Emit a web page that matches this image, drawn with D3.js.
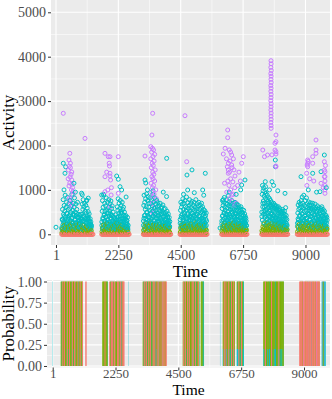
<!DOCTYPE html>
<html><head><meta charset="utf-8">
<script src="https://cdn.jsdelivr.net/npm/d3@7"></script>
<style>
body{margin:0;background:#fff}
svg{display:block}
text{font-family:"Liberation Serif","Times New Roman",serif}
</style>
</head><body>
<svg id="chart" width="332" height="399"></svg>
<script>
// ---------------- data ----------------
const stateKeys = ["s1","s2","s3","s4"];
const stateColors = ["#F8766D","#7CAE00","#00BFC4","#C77CFF"];
const xTicks = [1, 2250, 4500, 6750, 9000];
const xMinor = [1125.5, 3375, 5625, 7875];
const yTicksTop = [0, 1000, 2000, 3000, 4000, 5000];
const yMinorTop = [500, 1500, 2500, 3500, 4500];
const yTicksBottom = [0, 0.25, 0.5, 0.75, 1];
const yMinorBottom = [0.125, 0.375, 0.625, 0.875];

// active periods (time index) in the activity panel
const clusterStart = [206, 1650, 3150, 4474, 5977, 7420, 8705];
const clusterEnd   = [1288, 2610, 4113, 5437, 6879, 8344, 9787];
const redEnd       = [1335, 2640, 4140, 5450, 6890, 8360, 9790];
const redCount     = [45, 40, 45, 40, 40, 40, 45];

const greenVals = [
 [40,120,80,200,30,150,90,230,60,170,110,20,190,70,140,250,50,100,180,30,130,210,80,160,40,120,240,60,90,170,20,140,200,70,110,50,180,90,150,30,100,60,130,40,80],
 [60,140,30,210,90,170,50,120,240,80,190,20,150,100,220,40,130,70,180,110,30,200,60,160,90,250,40,140,80,190,120,50,170,30,210,100,60,150,80,130,40,180,90,110,50],
 [90,30,170,120,240,50,150,200,70,110,180,20,140,260,60,100,190,40,130,220,80,160,30,120,210,70,140,50,180,100,230,60,150,90,40,200,110,170,30,130,80,190,60,120,40,160,100,70,140,50],
 [50,130,200,80,160,30,110,240,70,180,100,20,150,210,60,120,90,190,40,140,230,70,170,110,30,200,80,150,50,120,260,90,170,40,130,210,60,100,180,30,140,80,160,50,110,200,70,120,40,90],
 [70,150,40,210,120,180,60,250,90,140,30,200,110,170,50,230,80,130,190,40,160,100,220,60,140,80,260,120,30,180,90,150,210,50,110,170,70,240,100,140,40,190,60,130,200,80,160,30,120,90,180,50,140,70,100],
 [80,40,170,120,230,60,150,100,200,30,140,260,70,180,110,50,210,90,160,40,130,240,70,190,100,150,30,220,80,170,120,60,200,90,140,40,250,110,160,70,190,50,130,210,80,150,100,40,180,60,120,90,140,70,110],
 [60,160,100,220,40,140,190,80,250,120,30,170,90,210,60,150,110,240,50,130,180,70,200,100,40,160,230,80,140,30,190,110,60,220,90,170,50,130,260,70,150,100,200,40,120,180,80,140,60,210,100,50,150,90,120]
];

const cyanVals = [
 [120,340,560,210,780,450,300,650,180,520,880,390,260,610,720,150,470,830,350,560,240,690,420,130,580,760,310,490,640,200,900,370,540,280,700,460,160,610,820,330,500,250,680,420,190,560,380,720,290,450,
  230,380,150,320,420,260,180,350,300,140,
  450,680,300,560,780,220,620,400,700,350,520,160,650,480,750,280,590,420,360,510,
  380,240,460,300,180,350,220,280,150,200],
 [200,520,760,340,610,150,880,430,290,700,520,180,640,390,820,260,550,470,720,330,150,600,780,410,280,530,690,220,460,750,350,580,200,640,420,310,500,260,380,180,
  240,120,330,200,150,280,100,220,
  380,620,260,540,800,330,470,700,190,580,420,760,300,520,650,240,480,720,350,560,280,610,430,200,500,370,290,
  340,180,420,260,150,310,230,380,140,200],
 [300,650,880,420,720,180,560,800,350,620,910,270,500,760,430,850,220,610,700,380,540,820,160,470,690,330,780,560,250,640,900,410,520,730,300,590,820,450,200,680,540,370,760,290,620,480,710,350,560,430,
  640,280,520,700,360,180,590,450,620,300,510,240,660,390,470,200,560,330,420,580,260,480,350,150,430,520,280,390,210,460,320,250,380,170,290],
 [250,540,720,380,610,190,680,450,800,320,560,700,230,490,760,400,620,280,540,840,360,600,170,710,470,580,300,650,780,420,520,260,690,380,600,740,330,480,560,210,650,430,720,290,540,610,380,780,460,240,570,690,350,500,640,280,720,420,560,330,660,480,250,590,700,360,510,620,300,450,560,220,480,390,530,260,420,340,480,300],
 [300,580,760,420,650,200,720,490,830,360,610,540,250,700,460,780,330,590,680,400,520,870,280,640,450,730,190,560,690,380,620,500,760,310,580,440,700,260,530,650,390,570,720,300,480,620,350,540,680,420,260,590,460,650,330,510,600,240,470,560,380,620,290,500,440,560,320,480,220,420,540,360,280,460,330,400,250,360,300,200],
 [400,900,1100,620,980,750,1050,520,860,700,960,430,810,640,920,560,780,350,880,690,740,480,830,600,710,390,800,550,660,760,300,620,720,470,580,680,360,640,530,700,420,590,250,660,500,610,380,560,640,300,520,600,440,560,340,620,480,270,540,410,580,330,500,460,230,520,380,470,300,560,420,350,480,260,400,520,330,450,280,600,360,420,240,330,200],
 [250,480,660,320,560,720,400,600,190,680,520,760,350,620,840,460,700,300,580,880,520,650,410,760,280,620,540,820,370,690,480,600,220,730,560,450,660,320,590,710,400,540,650,260,580,480,700,350,520,620,300,560,440,680,380,500,600,240,520,460,640,330,560,420,280,600,480,360,540,450,300,580,400,620,260,500,420,560,330,480,380,520,280,440,360,300,420,250,380,320]
];

// a second, denser layer of lower cyan readings per active period
const cyanLow = [
 [150,320,90,260,410,180,350,120,470,230,300,80,390,200,440,160,280,360,110,250,420,190,330,140,480,270,100,380,220,310,170,450,240,130,340,210,400,90,290,160,370,250,120,330,200,280,150,230,110,180],
 [280,130,370,220,90,450,310,170,400,240,140,330,260,480,190,120,360,230,420,150,300,210,100,380,270,160,440,200,320,130,250,390,180,110,350,230,470,150,290,210,120,340,260,180,400,140,220,310,170,100],
 [200,360,110,430,260,170,490,320,140,390,230,300,100,450,280,180,370,220,120,410,310,160,460,250,130,350,200,420,290,150,380,240,110,330,470,190,270,140,400,220,320,160,360,260,120,300,200,240,150,180],
 [330,160,420,240,110,380,280,190,460,220,130,350,300,170,440,260,100,390,210,320,150,480,250,180,370,120,290,410,230,140,340,200,450,270,160,310,110,400,240,190,360,130,280,220,330,150,250,180,120,200],
 [240,410,130,330,200,470,280,150,380,230,110,440,300,180,360,250,130,420,210,320,160,480,270,120,390,220,340,170,450,260,140,310,200,400,100,290,230,370,160,330,250,180,300,140,260,210,170,230,130,190],
 [500,320,700,450,260,620,380,540,210,470,330,580,240,420,300,510,180,390,450,270,350,160,420,300,230,380,140,330,260,400,190,310,240,120,350,210,280,170,300,130,260,200,150,240,110,220,170,130,190,100],
 [180,350,260,120,430,300,200,470,240,380,150,320,410,260,110,360,290,190,450,230,340,140,400,270,210,380,160,310,440,250,120,350,220,290,170,390,240,130,330,200,280,150,300,230,110,260,180,210,140,170]
];

// [time, activity] pairs for the sparse high cyan points
const cyanHigh = [
 [1,160],[264,1600],[350,1520],[325,1375],[650,1150],[925,925],[950,890],[1165,815],[1110,770],[700,950],[290,1000],
 [2190,1313],[2248,1240],[2310,1072],[2370,998],[1650,885],[2530,840],[1720,900],[2560,150],
 [3993,1711],[3211,1223],[3240,1155],[3990,850],[3870,950],[3300,1000],[3500,980],
 [4725,1335],[4906,1450],[5386,1374],[4750,998],[4990,937],[5293,998],[5330,880],[4600,900],
 [6818,1223],[6700,1110],[6663,1000],[5917,142],[6035,780],[6500,900],[6250,950],
 [7911,1673],[7915,1522],[7550,1185],[7792,1185],[7560,1072],[8261,923],[7700,1000],[7850,1100],[8000,980],
 [8838,1297],[9260,1374],[9560,1410],[9680,1786],[9523,960],[9100,1000],[9400,950],[9750,1050]
];

// [time, activity] pairs for the high-activity state
const purplePts = [
 [264,2725],[1047,2160],[500,1823],[470,1673],[520,1600],[480,1535],[450,1448],[570,1403],[510,1290],[570,1223],[500,1155],[470,1088],[560,998],[610,885],[500,773],[570,637],[530,700],[545,1350],[520,1500],[600,1050],[440,1250],[575,1130],[620,960],[490,820],
 [1768,1823],[1887,1748],[1948,1748],[2248,1748],[1920,1600],[1930,1538],[1948,1374],[1948,1313],[1768,1297],[1970,1223],[1768,960],[1990,885],[2248,923],[1948,622],[1870,998],[2000,1050],[1830,1400],
 [3488,2725],[3460,2236],[3211,1763],[3420,1973],[3480,1937],[3520,1900],[3450,1850],[3560,1800],[3500,1750],[3420,1700],[3540,1650],[3470,1600],[3510,1550],[3440,1500],[3580,1450],[3490,1400],[3530,1350],[3460,1300],[3500,1250],[3560,1200],[3430,1150],[3520,1100],[3480,1050],[3600,1000],[3450,950],[3540,900],[3500,850],[3620,800],[3470,700],[3550,600],[3500,480],
 [4653,2671],[4715,1635],
 [6194,2349],[6194,2176],[6035,1808],[6338,1786],[6757,1748],[6699,1600],[6338,1560],[6216,1448],[6216,1374],[6457,1313],[6338,885],[6100,1937],[6250,1900],[6300,1850],[6150,1700],[6280,1650],[6400,1700],[6220,1600],[6350,1500],[6180,1520],[6420,1450],[6260,1400],[6300,1250],[6200,1200],[6380,1180],[6240,1100],[6450,1050],[6300,1000],[6160,950],[6400,900],[6250,800],[6350,750],[6500,700],[6600,1400],[6650,1200],[6550,1100],[6450,650],[6080,1150],
 [7756,3910],[7760,3840],[7750,3760],[7765,3690],[7750,3620],[7760,3560],[7755,3490],[7762,3420],[7750,3350],[7758,3290],[7752,3220],[7760,3150],[7756,3080],[7750,3010],[7760,2940],[7756,2870],[7752,2800],[7760,2730],[7756,2660],[7760,2590],[7752,2520],[7758,2450],[7760,2387],
 [7935,2236],[7935,2086],[7935,1860],[7935,1808],[7935,1522],[7460,1898],[7520,1748],[7790,1790],[7900,2050],[7900,1898],[7630,1786],[7930,1538],
 [9379,2124],[9079,1673],[9079,1600],[9079,1522],[9100,1640],[9060,1560],[9260,1748],[9260,1600],[9379,1898],[9379,1823],[9680,1635],[9680,1448],[9680,1297],[9560,1148],[9043,1374],[9703,1410],[9703,1300],[9703,1200],[9703,1100],[9703,1000],[9703,923],[9720,1550],[9150,1250],[9300,1200],[9050,1100],[9640,1050]
];

// state-probability panel: blocks of bins, one character per bin (r,g,c,p; upper case = with cyan share)
const probStart  = [1, 287, 1170, 1777, 2028, 2708, 3223, 4656, 5300, 5991, 6088, 6589, 7541, 8830, 9632];
const probBinW   = [10, 20, 20, 20, 20, 10, 20, 20, 20, 10, 20, 20, 20, 20, 20];
const probStates = [
 "c",
 "gcgrgGrgggcrgGgrggcgrgGgrgpgggrcggrgGgrg",
 "rr",
 "ggGgrgggcg",
 "rgcrgrcgrrgcgprgrgcrgcrgrrr",
 "c",
 "gcrgpgrgcgrgGrgcgpgrgrcgGrgcrgpgrgcrgrgrgrr",
 "grgcrgGgrcgrggcgrGrgcgrgcggrgc",
 "ggcgcc",
 "c",
 "GgrGgrGpgGrGgcGrgGgrGg",
 "GcGrGgcGrgGcc",
 "GgGrGgpGgGcGgGrGgGgGpcGgGgGrGgGcGgGgc",
 "rrgrrgrprrgrrgrcrrgrrpgrrgrrgrprrgrrg",
 "cpgcpcc"
];
const cyanShare = 0.2;

// ---------------- layout ----------------
const svg = d3.select("#chart");
const pTop = {l:51, r:330, t:0, b:245};
const pBot = {l:47, r:330, t:280, b:367.5};

const xT = d3.scaleLinear().domain([-179, 9884]).range([pTop.l, pTop.r]);
const yT = d3.scaleLinear().domain([-241, 5277]).range([pTop.b, pTop.t]);
const xB = d3.scaleLinear().domain([-203, 9931]).range([pBot.l, pBot.r]);
const yB = d3.scaleLinear().domain([-0.018, 1.018]).range([pBot.b, pBot.t]);

function panel(p, xs, ys, yMaj, yMin) {
  const g = svg.append("g");
  g.append("rect").attr("x", p.l).attr("y", p.t).attr("width", p.r - p.l).attr("height", p.b - p.t).attr("fill", "#EBEBEB");
  g.append("g").selectAll("line").data(yMin).join("line")
    .attr("x1", p.l).attr("x2", p.r).attr("y1", d => ys(d)).attr("y2", d => ys(d))
    .attr("stroke", "#fff").attr("stroke-width", 0.55);
  g.append("g").selectAll("line").data(xMinor).join("line")
    .attr("y1", p.t).attr("y2", p.b).attr("x1", d => xs(d)).attr("x2", d => xs(d))
    .attr("stroke", "#fff").attr("stroke-width", 0.55);
  g.append("g").selectAll("line").data(yMaj).join("line")
    .attr("x1", p.l).attr("x2", p.r).attr("y1", d => ys(d)).attr("y2", d => ys(d))
    .attr("stroke", "#fff").attr("stroke-width", 1.1);
  g.append("g").selectAll("line").data(xTicks).join("line")
    .attr("y1", p.t).attr("y2", p.b).attr("x1", d => xs(d)).attr("x2", d => xs(d))
    .attr("stroke", "#fff").attr("stroke-width", 1.1);
}
panel(pTop, xT, yT, yTicksTop, yMinorTop);
panel(pBot, xB, yB, yTicksBottom, yMinorBottom);

// ---------------- activity points ----------------
const pts = [];
clusterStart.forEach((s, k) => {
  const n = redCount[k], span = clusterEnd[k] - s;
  for (let i = 0; i < n; i++) pts.push({t: s + (redEnd[k] - s) * i / (n - 1), v: 0, s: 0});
  greenVals[k].forEach((v, i, a) => pts.push({t: s + span * (i + 0.5) / a.length, v, s: 1}));
  cyanVals[k].forEach((v, i, a) => pts.push({t: s + span * (i + 0.5) / a.length, v, s: 2}));
  cyanLow[k].forEach((v, i, a) => pts.push({t: s + span * (i + 0.25) / a.length, v, s: 2}));
});
cyanHigh.forEach(([t, v]) => pts.push({t, v, s: 2}));
purplePts.forEach(([t, v]) => pts.push({t, v, s: 3}));
pts.sort((a, b) => a.t - b.t);

svg.append("g").selectAll("circle").data(pts).join("circle")
  .attr("cx", d => xT(d.t)).attr("cy", d => yT(d.v)).attr("r", 2)
  .attr("fill", "none").attr("stroke", d => stateColors[d.s]).attr("stroke-width", 1);

// ---------------- probability bars ----------------
const rows = [];
probStart.forEach((s, b) => {
  const str = probStates[b], w = probBinW[b];
  for (let i = 0; i < str.length; i++) {
    const ch = str[i], idx = "rgcp".indexOf(ch.toLowerCase());
    const row = {t: s + i * w, w, last: i === str.length - 1, s1: 0, s2: 0, s3: 0, s4: 0};
    if (ch !== ch.toLowerCase() && idx !== 2) { row[stateKeys[idx]] = 1 - cyanShare; row.s3 = cyanShare; }
    else row[stateKeys[idx]] = 1;
    rows.push(row);
  }
});
const stacked = d3.stack().keys(["s4", "s3", "s2", "s1"])(rows);
const colorOf = {s1: stateColors[0], s2: stateColors[1], s3: stateColors[2], s4: stateColors[3]};
const barG = svg.append("g");
stacked.forEach(layer => {
  barG.append("g").attr("fill", colorOf[layer.key]).selectAll("rect")
    .data(layer.filter(d => d[1] - d[0] > 0)).join("rect")
    .attr("x", d => xB(d.data.t))
    .attr("width", d => xB(d.data.t + d.data.w) - xB(d.data.t) + (d.data.last ? 0 : 0.4))
    .attr("y", d => yB(d[1]))
    .attr("height", d => yB(d[0]) - yB(d[1]));
});

// ---------------- axes ----------------
const FONT = '"Liberation Serif","Times New Roman",serif';
function styleAxis(size) {
  return g => {
    g.attr("font-family", FONT).attr("font-size", size);
    g.select(".domain").remove();
    g.selectAll(".tick line").attr("stroke", "#333333").attr("stroke-width", 1);
    g.selectAll(".tick text").attr("fill", "#4D4D4D").style("font-size", size + "px").style("font-family", FONT);
  };
}
svg.append("g").attr("transform", `translate(${pTop.l},0)`)
  .call(d3.axisLeft(yT).tickValues(yTicksTop).tickSize(3).tickPadding(2).tickFormat(d3.format("d")))
  .call(styleAxis(14));
svg.append("g").attr("transform", `translate(0,${pTop.b})`)
  .call(d3.axisBottom(xT).tickValues(xTicks).tickSize(3).tickPadding(2).tickFormat(d3.format("d")))
  .call(styleAxis(14));
svg.append("g").attr("transform", `translate(${pBot.l},0)`)
  .call(d3.axisLeft(yB).tickValues(yTicksBottom).tickSize(3).tickPadding(2).tickFormat(d3.format(".2f")))
  .call(styleAxis(14));
svg.append("g").attr("transform", `translate(0,${pBot.b})`)
  .call(d3.axisBottom(xB).tickValues(xTicks).tickSize(3).tickPadding(-1.3).tickFormat(d3.format("d")))
  .call(styleAxis(13));

// ---------------- titles ----------------
function title(txt, x, y, rot, size) {
  const t = svg.append("text").text(txt).attr("text-anchor", "middle")
    .style("font-size", size + "px").style("font-family", FONT).attr("fill", "#000");
  if (rot) t.attr("transform", `translate(${x},${y}) rotate(-90)`);
  else t.attr("x", x).attr("y", y);
}
title("Time", (pTop.l + pTop.r) / 2, 276.5, false, 17);
title("Time", (pBot.l + pBot.r) / 2, 395, false, 15.5);
title("Activity", 14, (pTop.t + pTop.b) / 2, true, 17);
title("Probability", 14, (pBot.t + pBot.b) / 2, true, 17);
</script>
</body></html>
